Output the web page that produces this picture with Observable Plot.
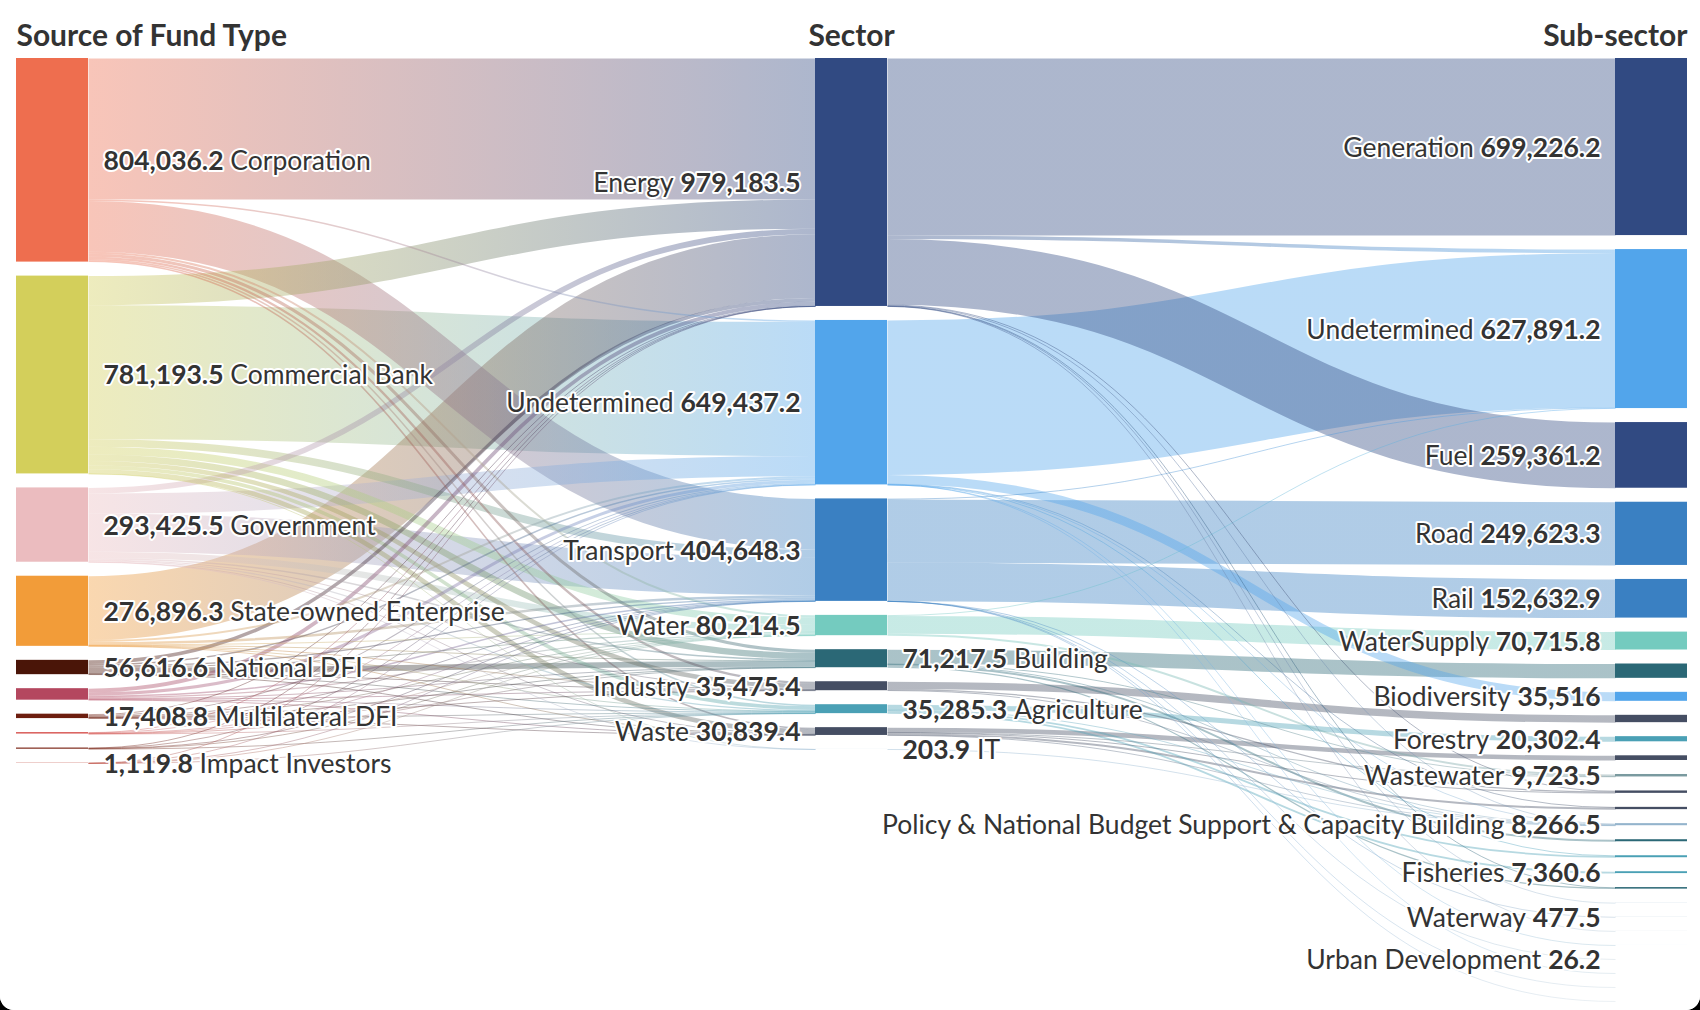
<!DOCTYPE html>
<html>
<head>
<meta charset="utf-8">
<script src="https://cdn.jsdelivr.net/npm/d3@7"></script>
<script src="https://cdn.jsdelivr.net/npm/@observablehq/plot@0.6"></script>
<style>
html, body { margin: 0; padding: 0; background: #000; overflow: hidden; }
#chart { width: 1700px; height: 1010px; background: #fff; border-radius: 0 0 14px 14px; overflow: hidden; }
#chart svg { display: block; }
</style>
</head>
<body>
<div id="chart"></div>
<script>
// ---------------- DATA ----------------
const columnTitles = ["Source of Fund Type", "Sector", "Sub-sector"];

const fundTypes = ["Corporation", "Commercial Bank", "Government", "State-owned Enterprise", "National DFI",
  "Bilateral DFI", "Multilateral DFI", "Climate Fund", "Philanthropy", "Impact Investors"];
const fundColors = ["#ee6e4f", "#d3cf5b", "#ebbcbf", "#f29c39", "#4a1508",
  "#b4475f", "#6d1e0f", "#d85a56", "#7a2414", "#c2574b"];

const sectors = ["Energy", "Undetermined", "Transport", "Water", "Building", "Industry", "Agriculture", "Waste", "IT"];
const sectorColors = ["#314a82", "#52a5eb", "#3a80c2", "#74cbbf", "#2b6876", "#454e63", "#4aa0b5", "#454e63", "#8fb3cf"];

const subSectors = ["Generation", "Undetermined", "Fuel", "Road", "Rail", "WaterSupply", "Energy Efficiency",
  "Biodiversity", "Manufacturing", "Forestry", "Solid Waste", "Wastewater", "Heavy Industry", "Recycling",
  "Policy & National Budget Support & Capacity Building", "Green Building", "Agri-food", "Fisheries",
  "Construction", "Transmission", "Waterway", "Storage", "Resilience", "Urban Development",
  "Conservation", "Aviation", "Maritime"];
const subColors = ["#314a82", "#52a5eb", "#314a82", "#3a80c2", "#3a80c2", "#74cbbf", "#2b6876",
  "#52a5eb", "#454e63", "#4aa0b5", "#454e63", "#7a9a9f", "#454e63", "#454e63",
  "#94b4cc", "#2b6876", "#4aa0b5", "#4aa0b5",
  "#2b6876", "#a9c3d6", "#9db6cc", "#b9cbd8", "#a7c6d6", "#c4d3dc",
  "#bcd0dc", "#c8d6e0", "#d0dbe3"];

// [source of fund, sector, value]
const fundSectorFlows = [
  ["Corporation", "Energy", 557000], ["Corporation", "Undetermined", 6000], ["Corporation", "Transport", 200000],
  ["Corporation", "Water", 8000], ["Corporation", "Building", 12000], ["Corporation", "Industry", 9000],
  ["Corporation", "Agriculture", 6000], ["Corporation", "Waste", 6036.2],
  ["Commercial Bank", "Energy", 115000], ["Commercial Bank", "Undetermined", 529349.2], ["Commercial Bank", "Transport", 30000],
  ["Commercial Bank", "Water", 30414.5], ["Commercial Bank", "Building", 25217.5], ["Commercial Bank", "Industry", 17975.4],
  ["Commercial Bank", "Agriculture", 14477], ["Commercial Bank", "Waste", 18681.5], ["Commercial Bank", "IT", 78.4],
  ["Government", "Energy", 22000], ["Government", "Undetermined", 80000], ["Government", "Transport", 150000],
  ["Government", "Water", 25000], ["Government", "Building", 6000], ["Government", "Industry", 3000],
  ["Government", "Agriculture", 5000], ["Government", "Waste", 2300], ["Government", "IT", 125.5],
  ["State-owned Enterprise", "Energy", 252000], ["State-owned Enterprise", "Undetermined", 8000], ["State-owned Enterprise", "Transport", 10000],
  ["State-owned Enterprise", "Water", 2000], ["State-owned Enterprise", "Building", 1500], ["State-owned Enterprise", "Industry", 1500],
  ["State-owned Enterprise", "Agriculture", 1000], ["State-owned Enterprise", "Waste", 896.3],
  ["National DFI", "Energy", 14000], ["National DFI", "Undetermined", 6000], ["National DFI", "Transport", 5000],
  ["National DFI", "Water", 4000], ["National DFI", "Building", 22000], ["National DFI", "Industry", 2500],
  ["National DFI", "Agriculture", 2000], ["National DFI", "Waste", 1116.6],
  ["Bilateral DFI", "Energy", 15000], ["Bilateral DFI", "Undetermined", 12000], ["Bilateral DFI", "Transport", 6000],
  ["Bilateral DFI", "Water", 5000], ["Bilateral DFI", "Building", 3000], ["Bilateral DFI", "Industry", 1000],
  ["Bilateral DFI", "Agriculture", 2500], ["Bilateral DFI", "Waste", 900],
  ["Multilateral DFI", "Energy", 3500], ["Multilateral DFI", "Undetermined", 4000], ["Multilateral DFI", "Transport", 2000],
  ["Multilateral DFI", "Water", 3000], ["Multilateral DFI", "Building", 1000], ["Multilateral DFI", "Industry", 500],
  ["Multilateral DFI", "Agriculture", 2500], ["Multilateral DFI", "Waste", 908.8],
  ["Climate Fund", "Energy", 500], ["Climate Fund", "Undetermined", 2300], ["Climate Fund", "Transport", 1000],
  ["Climate Fund", "Water", 1000], ["Climate Fund", "Building", 500], ["Climate Fund", "Agriculture", 500],
  ["Philanthropy", "Energy", 100], ["Philanthropy", "Undetermined", 1700], ["Philanthropy", "Transport", 500],
  ["Philanthropy", "Water", 1300], ["Philanthropy", "Agriculture", 1008.3],
  ["Impact Investors", "Energy", 83.5], ["Impact Investors", "Undetermined", 88], ["Impact Investors", "Transport", 148.3],
  ["Impact Investors", "Water", 500], ["Impact Investors", "Agriculture", 300]
];

// [sector, sub-sector, value]
const sectorSubFlows = [
  ["Energy", "Generation", 699226.2], ["Energy", "Undetermined", 14000], ["Energy", "Fuel", 259361.2],
  ["Energy", "Policy & National Budget Support & Capacity Building", 2500], ["Energy", "Heavy Industry", 2000],
  ["Energy", "Construction", 1196.1], ["Energy", "Transmission", 600], ["Energy", "Storage", 300],
  ["Undetermined", "Undetermined", 610001.2], ["Undetermined", "Biodiversity", 35516],
  ["Undetermined", "Policy & National Budget Support & Capacity Building", 2000], ["Undetermined", "Recycling", 1000],
  ["Undetermined", "Agri-food", 800], ["Undetermined", "Resilience", 100], ["Undetermined", "Conservation", 20],
  ["Transport", "Road", 249623.3], ["Transport", "Rail", 152632.9], ["Transport", "Undetermined", 1873.4],
  ["Transport", "Waterway", 477.5], ["Transport", "Urban Development", 26.2], ["Transport", "Aviation", 10],
  ["Transport", "Maritime", 5],
  ["Water", "WaterSupply", 70715.8], ["Water", "Wastewater", 7482.1], ["Water", "Undetermined", 2016.6],
  ["Building", "Energy Efficiency", 56546.7], ["Building", "Green Building", 8000], ["Building", "Construction", 4803.9],
  ["Building", "Wastewater", 1241.4], ["Building", "Policy & National Budget Support & Capacity Building", 625.5],
  ["Industry", "Manufacturing", 29000], ["Industry", "Heavy Industry", 5000],
  ["Industry", "Policy & National Budget Support & Capacity Building", 1475.4],
  ["Waste", "Solid Waste", 18500], ["Waste", "Heavy Industry", 2500], ["Waste", "Recycling", 8000],
  ["Waste", "Wastewater", 1000], ["Waste", "Policy & National Budget Support & Capacity Building", 839.4],
  ["Agriculture", "Forestry", 20302.4], ["Agriculture", "Fisheries", 7360.6], ["Agriculture", "Agri-food", 7000],
  ["Agriculture", "Policy & National Budget Support & Capacity Building", 622.3],
  ["IT", "Policy & National Budget Support & Capacity Building", 203.9]
];

// ---------------- LAYOUT ----------------
const W = 1700, H = 1010;
const TOP = 58, BOTTOM = 1001, GAP = 14, NODE_W = 72;
const colX = [16, 815, 1615];
const FONT = "Lato";
const TEXT = "#333333";

const ctx = document.createElement("canvas").getContext("2d");
const tw = (s, w, size) => { ctx.font = `${w} ${size}px ${FONT}`; return ctx.measureText(s).width; };
const labelSize = 100 * 720 / (tw("Policy & National Budget Support & Capacity Building ", 400, 100) + tw("8,266.5", 700, 100));
const headerSize = 100 * 272 / tw("Source of Fund Type", 700, 100);

const colDefs = [[fundTypes, fundColors], [sectors, sectorColors], [subSectors, subColors]];
const nodes = [];
const byKey = new Map();
colDefs.forEach(([names, colors], c) => names.forEach((name, i) => {
  const n = {col: c, i, name, color: colors[i], vin: 0, vout: 0, outs: [], ins: []};
  nodes.push(n); byKey.set(c + "|" + name, n);
}));
const links = [];
[[fundSectorFlows, 0], [sectorSubFlows, 1]].forEach(([flows, c]) => flows.forEach(([s, t, v]) => {
  const src = byKey.get(c + "|" + s), tgt = byKey.get((c + 1) + "|" + t);
  const l = {source: src, target: tgt, value: v};
  links.push(l); src.outs.push(l); tgt.ins.push(l); src.vout += v; tgt.vin += v;
}));
nodes.forEach(n => n.value = Math.max(n.vin, n.vout));
const total = d3.sum(nodes.filter(n => n.col === 0), n => n.value);
const maxN = d3.max(colDefs, d => d[0].length);
const k = (BOTTOM - TOP - (maxN - 1) * GAP) / total;
[0, 1, 2].forEach(c => {
  let y = TOP;
  nodes.filter(n => n.col === c).forEach(n => {
    n.x0 = colX[c]; n.x1 = colX[c] + NODE_W;
    n.y0 = y; n.y1 = y + n.value * k; y = n.y1 + GAP;
  });
});
nodes.forEach(n => {
  n.outs.sort((a, b) => a.target.i - b.target.i);
  n.ins.sort((a, b) => a.source.i - b.source.i);
  let y = n.y0;
  n.outs.forEach(l => { l.w = l.value * k; l.y0 = y + l.w / 2; y += l.w; });
  y = n.y0;
  n.ins.forEach(l => { const w = l.value * k; l.y1 = y + w / 2; y += w; });
});
links.forEach((l, j) => {
  l.x0 = l.source.x1; l.x1 = l.target.x0;
  l.id = "lg" + j; l.stroke = `url(#lg${j})`; l.sw = Math.max(1, l.w);
});
const drawLinks = links.slice().sort((a, b) => b.value - a.value);

// ---------------- LABELS ----------------
const fmt = d3.format(",");
const labels = [];
const MIN_GAP = 34;
const spaceW = tw(" ", 400, labelSize);
function pushLabel(n, side) {
  const y = (n.y0 + n.y1) / 2 + 1;
  const v = fmt(Math.round(n.value * 10) / 10);
  const vw = tw(v, 700, labelSize);
  if (side === "right") {
    const x = n.x1 + 15;
    labels.push({x, y, text: v, anchor: "start", weight: 700});
    labels.push({x: x + vw + spaceW, y, text: n.name, anchor: "start", weight: 400});
  } else {
    const x = n.x0 - 15;
    labels.push({x, y, text: v, anchor: "end", weight: 700});
    labels.push({x: x - vw - spaceW, y, text: n.name, anchor: "end", weight: 400});
  }
}
[0, 1, 2].forEach(c => {
  const last = {left: -Infinity, right: -Infinity};
  nodes.filter(n => n.col === c).forEach(n => {
    const y = (n.y0 + n.y1) / 2;
    if (y + labelSize / 2 > H) return;
    const sides = c === 0 ? ["right"] : c === 2 ? ["left"] : ["left", "right"];
    for (const s of sides) {
      if (y - last[s] >= MIN_GAP) { pushLabel(n, s); last[s] = y; break; }
    }
  });
});
const headers = [
  {x: colX[0], y: 36, text: columnTitles[0], anchor: "start"},
  {x: colX[1] + NODE_W / 2, y: 36, text: columnTitles[1], anchor: "middle"},
  {x: colX[2] + NODE_W, y: 36, text: columnTitles[2], anchor: "end"}
];

const textStyle = {fontFamily: FONT, fontSize: labelSize, fill: TEXT, stroke: "white", strokeWidth: 4,
  strokeLinejoin: "round", paintOrder: "stroke", lineAnchor: "middle"};

const marks = [
  Plot.link(drawLinks, {x1: "x0", y1: "y0", x2: "x1", y2: "y1", stroke: "stroke", strokeWidth: "sw",
    strokeOpacity: 0.4, curve: "bump-x"}),
  Plot.rect(nodes, {x1: "x0", x2: "x1", y1: "y0", y2: "y1", fill: "color"})
];
for (const anchor of ["start", "end"]) for (const weight of [700, 400]) {
  marks.push(Plot.text(labels.filter(d => d.anchor === anchor && d.weight === weight),
    {x: "x", y: "y", text: "text", textAnchor: anchor, fontWeight: weight, ...textStyle}));
}
for (const anchor of ["start", "middle", "end"]) {
  marks.push(Plot.text(headers.filter(d => d.anchor === anchor),
    {x: "x", y: "y", text: "text", textAnchor: anchor, fontWeight: 700, fontFamily: FONT,
     fontSize: headerSize, fill: TEXT, lineAnchor: "middle"}));
}

const svg = Plot.plot({
  width: W, height: H, margin: 0,
  x: {domain: [0, W], range: [0, W], axis: null},
  y: {domain: [0, H], range: [0, H], axis: null},
  color: {type: "identity"},
  style: {background: "white", fontFamily: FONT},
  marks
});

// gradients for links (source colour -> target colour)
const NS = "http://www.w3.org/2000/svg";
const defs = document.createElementNS(NS, "defs");
links.forEach(l => {
  const g = document.createElementNS(NS, "linearGradient");
  g.setAttribute("id", l.id);
  g.setAttribute("gradientUnits", "userSpaceOnUse");
  g.setAttribute("x1", l.x0); g.setAttribute("x2", l.x1);
  g.setAttribute("y1", 0); g.setAttribute("y2", 0);
  [[0, l.source.color], [1, l.target.color]].forEach(([o, c]) => {
    const s = document.createElementNS(NS, "stop");
    s.setAttribute("offset", o); s.setAttribute("stop-color", c);
    g.appendChild(s);
  });
  defs.appendChild(g);
});
svg.insertBefore(defs, svg.firstChild);
document.getElementById("chart").appendChild(svg);
</script>
</body>
</html>
